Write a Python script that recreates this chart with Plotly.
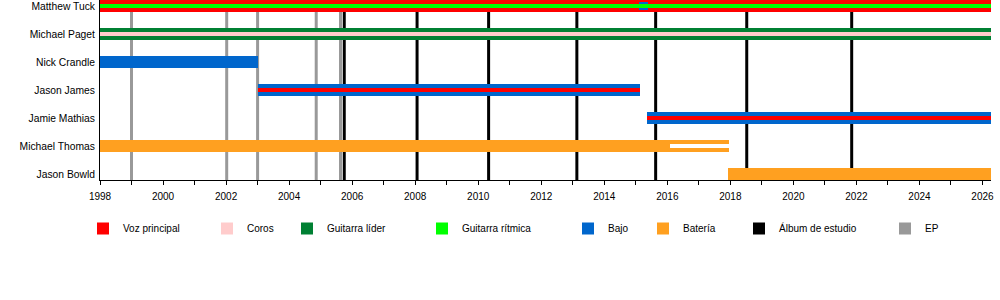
import plotly.graph_objects as go

# ---------------- data ----------------
members = ["Matthew Tuck", "Michael Paget", "Nick Crandle", "Jason James",
           "Jamie Mathias", "Michael Thomas", "Jason Bowld"]
END = 2026.27

role_colors = {
    "Voz principal": "#FF0000",
    "Coros": "#FFCCCC",
    "Guitarra líder": "#008033",
    "Guitarra rítmica": "#00FF00",
    "Bajo": "#0066CC",
    "Batería": "#FFA020",
    "Álbum de estudio": "#000000",
    "EP": "#999999",
    "inactivo": "#FFFFFF",
}

# outer (full-height) bars
outer_member = ["Matthew Tuck", "Michael Paget", "Nick Crandle", "Jason James",
                "Jamie Mathias", "Michael Thomas", "Jason Bowld"]
outer_role = ["Voz principal", "Guitarra líder", "Bajo", "Bajo",
              "Bajo", "Batería", "Batería"]
outer_start = [1998.0, 1998.0, 1998.0, 2003.0, 2015.37, 1998.0, 2017.93]
outer_end = [END, END, 2003.0, 2015.14, END, 2017.97, END]

# middle bars
mid_member = ["Matthew Tuck"]
mid_role = ["Bajo"]
mid_start = [2015.11]
mid_end = [2015.40]

# inner stripes
inner_member = ["Matthew Tuck", "Michael Paget", "Jason James", "Jamie Mathias",
                "Michael Thomas"]
inner_role = ["Guitarra rítmica", "Coros", "Voz principal", "Voz principal",
              "inactivo"]
inner_start = [1998.0, 1998.0, 2003.0, 2015.37, 2016.1]
inner_end = [END, END, 2015.14, END, 2017.97]

albums = [2005.75, 2008.06, 2010.33, 2013.13, 2015.63, 2018.52, 2021.85]
eps = [1999.0, 2002.02, 2003.0, 2004.86, 2005.63]

legend_items = ["Voz principal", "Coros", "Guitarra líder", "Guitarra rítmica",
                "Bajo", "Batería", "Álbum de estudio", "EP"]

# ---------------- figure ----------------
FONT = "Liberation Sans, Arial, sans-serif"
idx = {m: i for i, m in enumerate(members)}
fig = go.Figure()


def add_layer(mem, role, start, end, width):
    fig.add_trace(go.Bar(
        orientation="h",
        y=[idx[m] for m in mem],
        x=[e - s for s, e in zip(start, end)],
        base=start,
        width=[width] * len(mem),
        marker=dict(color=[role_colors[r] for r in role], line=dict(width=0)),
        showlegend=False,
        hoverinfo="skip",
    ))


add_layer(outer_member, outer_role, outer_start, outer_end, 0.43)
add_layer(mid_member, mid_role, mid_start, mid_end, 0.285)
add_layer(inner_member, inner_role, inner_start, inner_end, 0.143)

for d in eps:
    fig.add_shape(type="line", xref="x", yref="paper", x0=d, x1=d, y0=0, y1=1,
                  layer="below", line=dict(color=role_colors["EP"], width=3))
for d in albums:
    fig.add_shape(type="line", xref="x", yref="paper", x0=d, x1=d, y0=0, y1=1,
                  layer="below", line=dict(color=role_colors["Álbum de estudio"], width=3))

# legend: one legend per entry, placed along a row
legend_px = [98, 222, 302, 437, 583, 658, 754, 900]
layout_legends = {}
for i, (name, px) in enumerate(zip(legend_items, legend_px)):
    key = "legend" if i == 0 else f"legend{i + 1}"
    fig.add_trace(go.Scatter(
        x=[None], y=[None], mode="markers", name=name,
        marker=dict(symbol="square", size=12, color=role_colors[name]),
        legend=key, showlegend=True, hoverinfo="skip",
    ))
    layout_legends[key] = dict(
        x=(px - 15) / 1000, xref="container", xanchor="left",
        y=1 - 228.5 / 300, yref="container", yanchor="middle",
        orientation="h", bgcolor="rgba(0,0,0,0)", borderwidth=0,
        font=dict(family=FONT, size=10, color="#000000"),
        itemclick=False, itemdoubleclick=False,
    )

fig.update_layout(
    width=1000, height=300,
    margin=dict(l=100, r=9, t=0, b=120),
    paper_bgcolor="white", plot_bgcolor="white",
    barmode="overlay", bargap=0,
    font=dict(family=FONT, size=10, color="#000000"),
    **layout_legends,
)
fig.update_xaxes(
    range=[1998, END], tick0=1998, dtick=2, tickformat="d",
    ticks="outside", ticklen=4, tickwidth=1, tickcolor="black",
    minor=dict(dtick=1, ticks="outside", ticklen=4, tickcolor="black"),
    showline=True, linecolor="black", linewidth=1,
    showgrid=False, zeroline=False, ticklabelstandoff=3,
    tickfont=dict(family=FONT, size=10, color="#000000"),
)
fig.update_yaxes(
    range=[6.197, -0.214], tickvals=list(range(len(members))), ticktext=members,
    showline=True, linecolor="black", linewidth=1, ticks="",
    showgrid=False, zeroline=False, ticklabelstandoff=2,
    tickfont=dict(family=FONT, size=10.3, color="#000000"),
)

fig.write_html("out.html")
